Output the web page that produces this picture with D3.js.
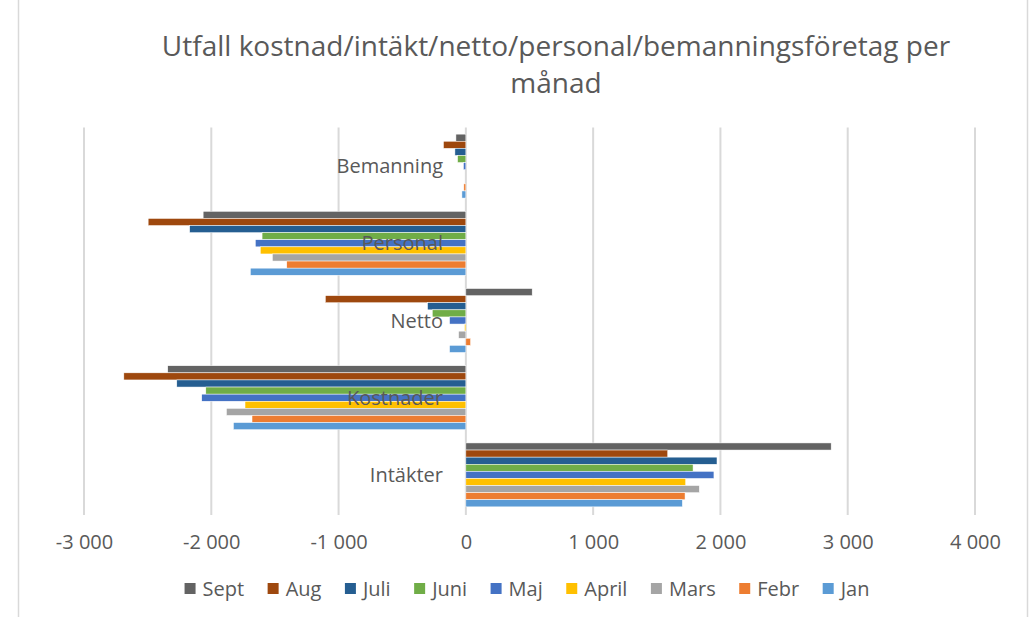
<!DOCTYPE html>
<html lang="sv">
<head>
<meta charset="utf-8">
<title>Utfall per månad</title>
<script src="https://d3js.org/d3.v7.min.js"></script>
<style>
  body { margin: 0; background: #fff; }
  text { font-family: "Open Sans", "Noto Sans", sans-serif; fill: #595959; }
</style>
</head>
<body>
<div id="chart"></div>
<script>
// categories, top to bottom as drawn
var categories = ["Bemanning", "Personal", "Netto", "Kostnader", "Intäkter"];
// series, top bar to bottom bar inside each group (also legend order)
var months = ["Sept", "Aug", "Juli", "Juni", "Maj", "April", "Mars", "Febr", "Jan"];
var colors = ["#636363", "#9e480e", "#255e91", "#70ad47", "#4472c4", "#ffc000", "#a5a5a5", "#ed7d31", "#5b9bd5"];

// values per month, in category order above
var sept  = [-78,  -2064,  521, -2342, 2870];
var aug   = [-176, -2496, -1104, -2687, 1586];
var juli  = [-86,  -2170, -301, -2271, 1973];
var juni  = [-65,  -1601, -264, -2043, 1785];
var maj   = [-19,  -1654, -128, -2075, 1949];
var april = [0,    -1615,  -10, -1735, 1727];
var mars  = [0,    -1520,  -57, -1881, 1834];
var febr  = [-16,  -1407,   37, -1680, 1722];
var jan   = [-31,  -1693, -128, -1826, 1701];
var series = [sept, aug, juli, juni, maj, april, mars, febr, jan];

var xTicks = [-3000, -2000, -1000, 0, 1000, 2000, 3000, 4000];

var W = 1036, H = 617;
var svg = d3.select("#chart").append("svg")
    .attr("width", W).attr("height", H);

// outer frame lines
svg.append("line").attr("x1", 18.5).attr("x2", 18.5).attr("y1", 0).attr("y2", H)
    .attr("stroke", "#d9d9d9").attr("stroke-width", 1.5);
svg.append("line").attr("x1", 1027.5).attr("x2", 1027.5).attr("y1", 0).attr("y2", H)
    .attr("stroke", "#d9d9d9").attr("stroke-width", 1.5);

// title
var title = svg.append("text")
    .attr("text-anchor", "middle")
    .style("font-size", "28px");
title.append("tspan").attr("x", 556).attr("y", 56)
    .text("Utfall kostnad/intäkt/netto/personal/bemanningsföretag per");
title.append("tspan").attr("x", 556).attr("y", 93).text("månad");

var x = d3.scaleLinear().domain([-3000, 4000]).range([84, 975]);

var y0 = d3.scaleBand().domain(categories)
    .range([127.5, 513.5]).paddingInner(0.172).paddingOuter(0.086);
var y1 = d3.scaleBand().domain(months).range([0, y0.bandwidth()]);

var loc = d3.formatLocale({decimal: ",", thousands: " ", grouping: [3], currency: ["", ""], minus: "-"});
var fmt = loc.format(",d");

// gridlines
svg.append("g").selectAll("line").data(xTicks).join("line")
    .attr("x1", function(d) { return x(d); })
    .attr("x2", function(d) { return x(d); })
    .attr("y1", 127.5).attr("y2", 515)
    .attr("stroke", "#d9d9d9").attr("stroke-width", 2);

// x axis labels (axis drawn without line/ticks, like Excel)
var xAxis = svg.append("g")
    .attr("transform", "translate(0,515)")
    .call(d3.axisBottom(x).tickValues(xTicks).tickFormat(fmt).tickSize(0).tickPadding(20));
xAxis.select(".domain").remove();
xAxis.selectAll("text").style("font-size", "20px").attr("fill", "#595959");

// bars
var groups = svg.append("g").selectAll("g").data(categories).join("g")
    .attr("transform", function(c) { return "translate(0," + y0(c) + ")"; });

groups.selectAll("rect")
    .data(function(c, ci) {
      return months.map(function(m, mi) { return {m: m, v: series[mi][ci], col: colors[mi]}; });
    })
    .join("rect")
    .attr("x", function(d) { return x(Math.min(0, d.v)); })
    .attr("y", function(d) { return y1(d.m); })
    .attr("width", function(d) { return Math.abs(x(d.v) - x(0)); })
    .attr("height", y1.bandwidth())
    .attr("fill", function(d) { return d.col; })
    .attr("stroke", "#fff").attr("stroke-width", 0.5);

// category labels, right aligned just left of zero
svg.append("g").selectAll("text").data(categories).join("text")
    .attr("x", 443)
    .attr("y", function(c) { return y0(c) + y0.bandwidth() / 2; })
    .attr("dy", "0.35em")
    .attr("text-anchor", "end")
    .style("font-size", "20px")
    .text(function(c) { return c; });

// legend
var legend = svg.append("g").attr("transform", "translate(0,589)");
var items = legend.selectAll("g").data(months).join("g");
items.append("rect").attr("width", 11).attr("height", 11).attr("y", -6)
    .attr("fill", function(d, i) { return colors[i]; });
items.append("text").attr("x", 18).attr("dy", "0.35em")
    .style("font-size", "20px")
    .text(function(d) { return d; });

var gap = 23.5, pos = 0, offs = [];
items.each(function() {
  offs.push(pos);
  pos += 18 + this.querySelector("text").getComputedTextLength() + gap;
});
var total = pos - gap;
var start = 527 - total / 2;
items.attr("transform", function(d, i) { return "translate(" + (start + offs[i]) + ",0)"; });
</script>
</body>
</html>
